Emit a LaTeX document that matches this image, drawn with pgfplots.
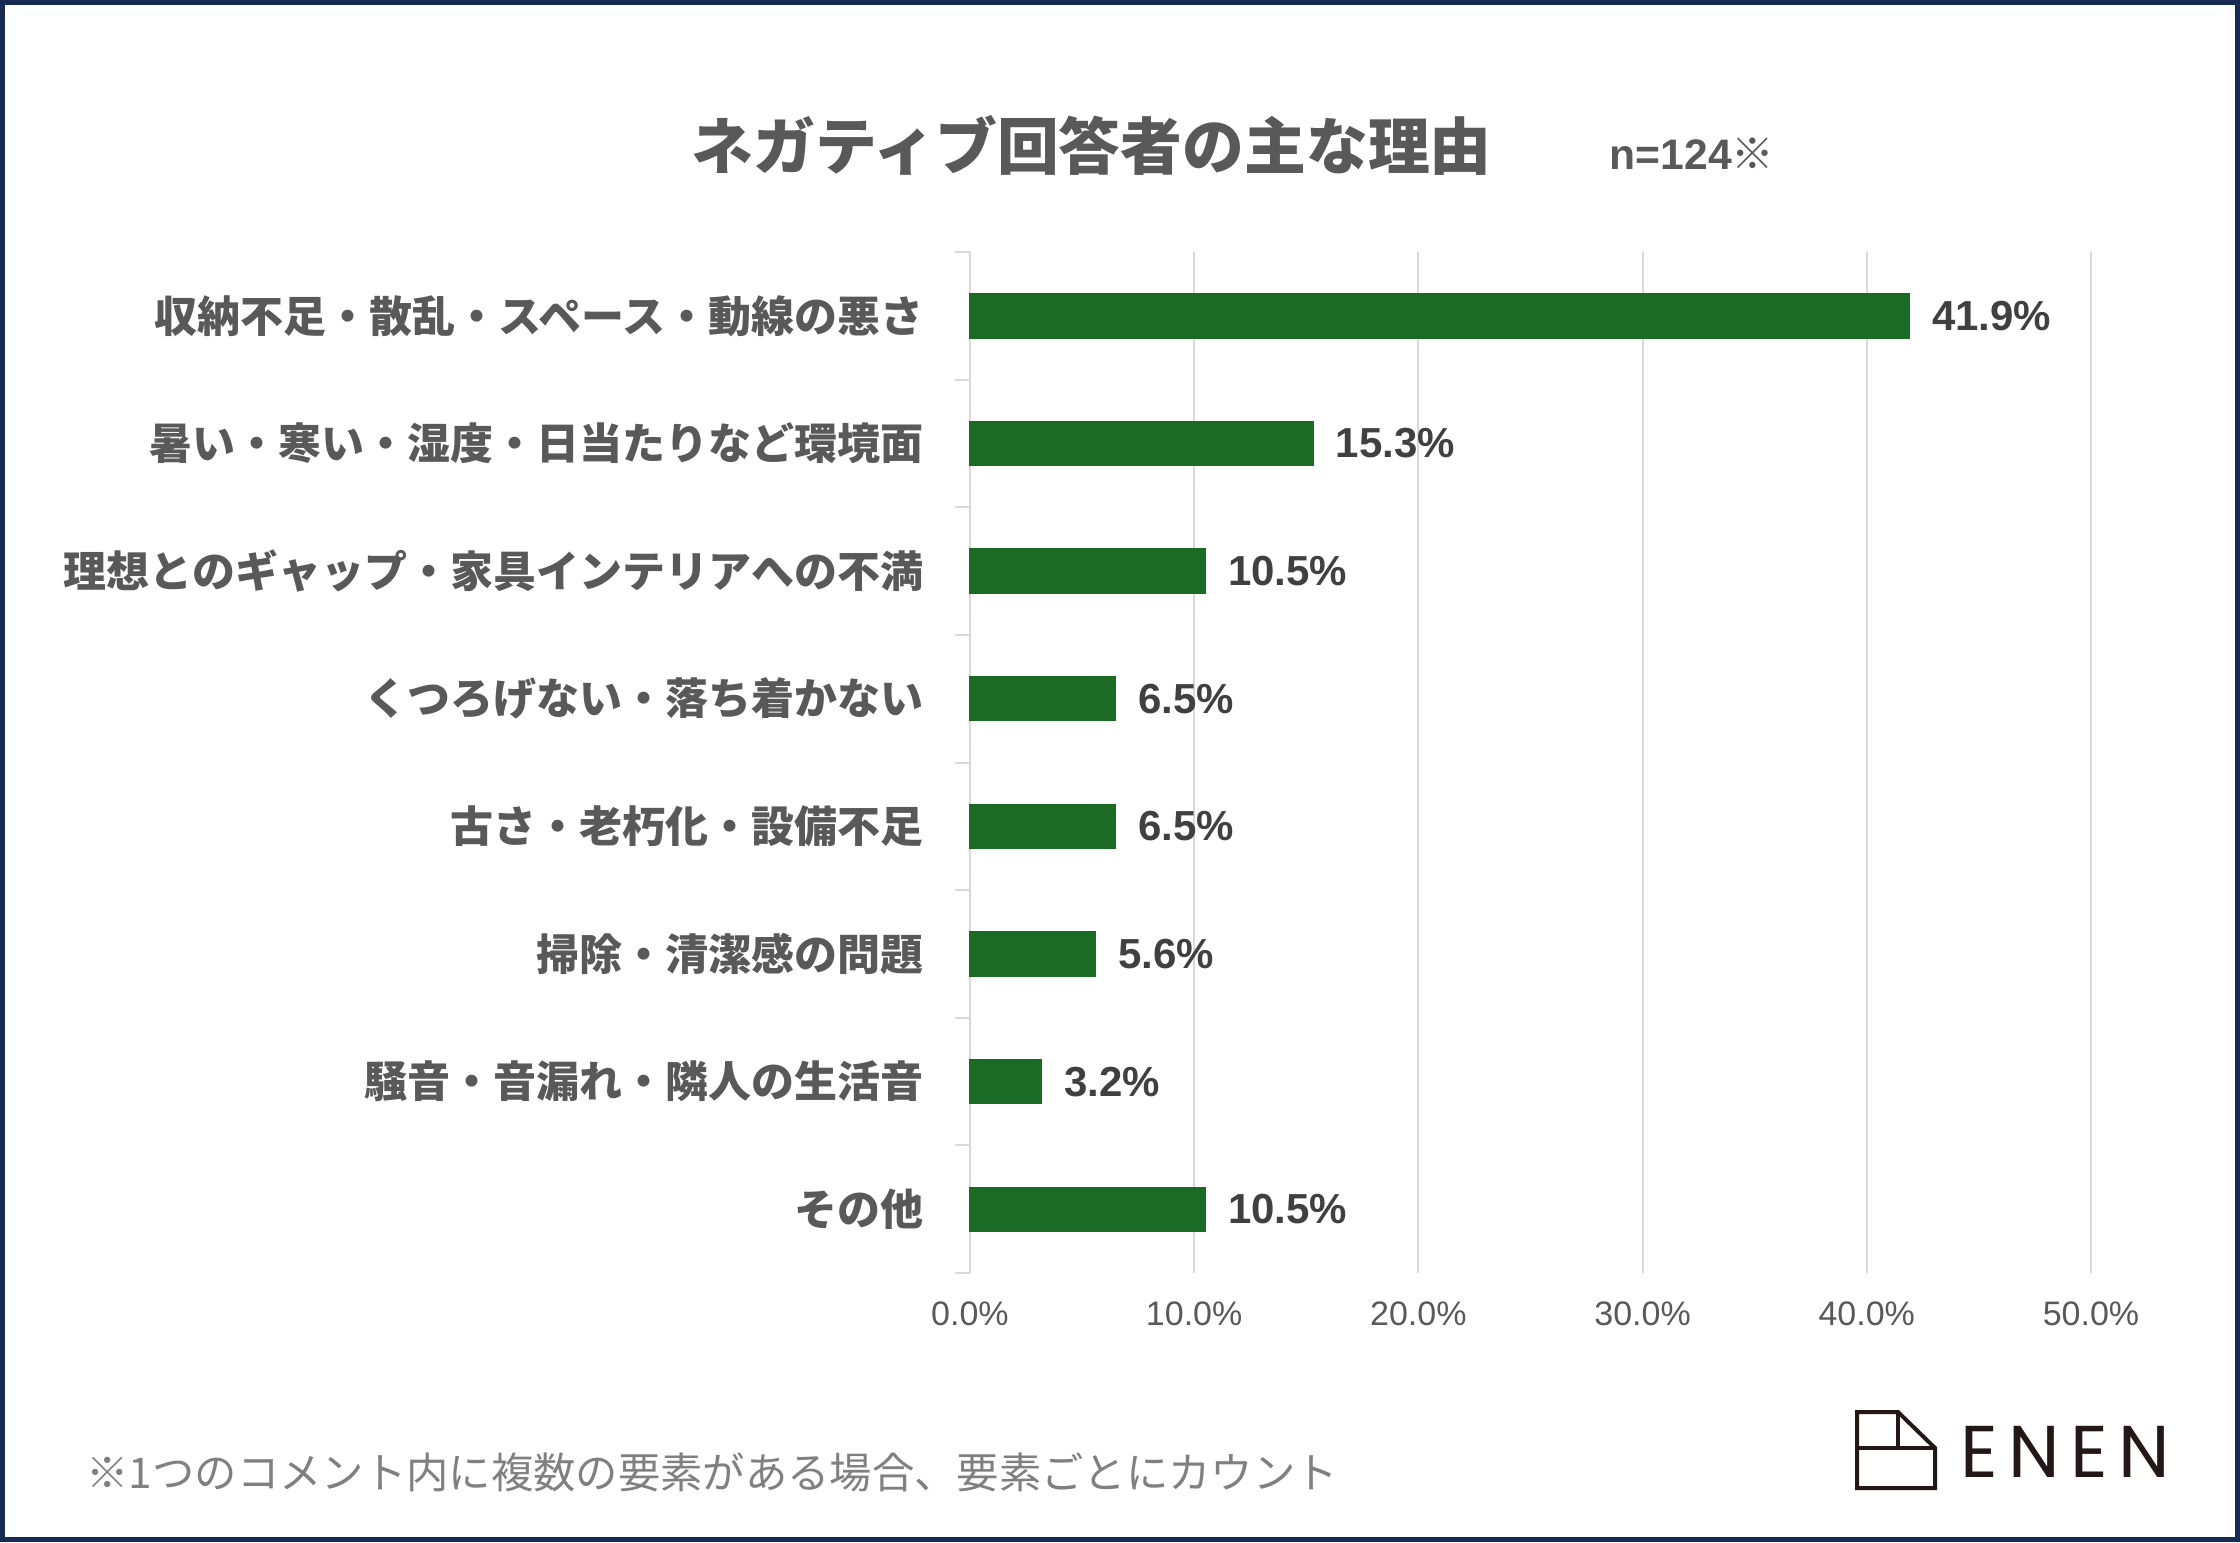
\documentclass[border=0pt]{standalone}
\usepackage{fontspec}
\usepackage{pgfplots}
\pgfplotsset{compat=1.18}
\setmainfont{Liberation Sans}
\newfontfamily\jp{Noto Sans CJK JP}
\newfontfamily\logofont[LetterSpace=14]{Poppins}
\definecolor{barg}{HTML}{1B6B25}
\definecolor{navy}{HTML}{172B52}
\definecolor{lab}{HTML}{595959}
\definecolor{val}{HTML}{404040}
\definecolor{gridc}{HTML}{D9D9D9}
\definecolor{foot}{HTML}{808080}
\definecolor{logoc}{HTML}{231815}
\begin{document}
\begin{tikzpicture}[x=0.3pt,y=0.3pt]
\useasboundingbox (0,0) rectangle (2240,1542);
\fill[white] (0,0) rectangle (2240,1542);
\begin{axis}[
  at={(291pt,80.7pt)}, anchor=south west, scale only axis,
  width=336.3pt, height=306.3pt,
  xmin=0, xmax=50, ymin=-0.5, ymax=7.5, y dir=reverse,
  xbar, bar width=13.2pt, clip=false,
  axis line style={draw=none},
  xtick={0,10,20,30,40,50},
  xticklabel={\pgfmathprintnumber[fixed,fixed zerofill,precision=1]{\tick}\%},
  /pgf/number format/assume math mode=true,
  xticklabel style={font=\fontsize{10.2pt}{12pt}\selectfont, text=lab, yshift=-5pt},
  xmajorgrids, grid style={gridc, line width=0.6pt},
  major x tick style={draw=none},
  ytick={0,...,7},
  yticklabels={収納不足・散乱・スペース・動線の悪さ,暑い・寒い・湿度・日当たりなど環境面,理想とのギャップ・家具インテリアへの不満,くつろげない・落ち着かない,古さ・老朽化・設備不足,掃除・清潔感の問題,騒音・音漏れ・隣人の生活音,その他},
  yticklabel style={font=\jp\bfseries\fontsize{12.9pt}{14pt}\selectfont, text=lab, xshift=-10.5pt},
  major tick length=0pt,
  minor ytick={-0.5,0.5,...,7.5},
  minor tick length=4.5pt,
  minor y tick style={gridc, line width=0.6pt},
  tick align=outside,
  ytick pos=left, xtick pos=bottom,
  point meta=x,
  nodes near coords={\pgfmathprintnumber[fixed,fixed zerofill,precision=1]{\pgfplotspointmeta}\%},
  nodes near coords style={font=\bfseries\fontsize{12.6pt}{14pt}\selectfont, text=val, anchor=west, xshift=3.3pt},
]
\addplot[fill=barg, draw=barg] coordinates {(41.9,0) (15.3,1) (10.5,2) (6.5,3) (6.5,4) (5.6,5) (3.2,6) (10.5,7)};
\end{axis}
\node[anchor=west, text=lab, font=\jp\bfseries\fontsize{18.55pt}{20pt}\selectfont, inner sep=0] at (691,1397) {ネガティブ回答者の主な理由};
\node[anchor=west, text=lab, font=\bfseries\fontsize{12.8pt}{14pt}\selectfont, inner sep=0] at (1609,1388) {n=124{\jp ※}};
\node[anchor=west, text=foot, font=\jp\fontsize{12.7pt}{14pt}\selectfont, inner sep=0] at (86,70) {※1つのコメント内に複数の要素がある場合、要素ごとにカウント};
\draw[logoc, line width=1.2pt, line join=miter] (1857,130) -- (1898,130) -- (1935,94) -- (1935,54) -- (1857,54) -- cycle;
\draw[logoc, line width=1.2pt] (1857,94) -- (1935,94) (1898,130) -- (1898,94);
\node[anchor=base west, text=logoc, font=\logofont\fontsize{22pt}{24pt}\selectfont, inner sep=0] at (1960,65) {ENEN};
\draw[navy, line width=1.5pt] (2.5,2.5) rectangle (2237.5,1539.5);
\end{tikzpicture}
\end{document}
